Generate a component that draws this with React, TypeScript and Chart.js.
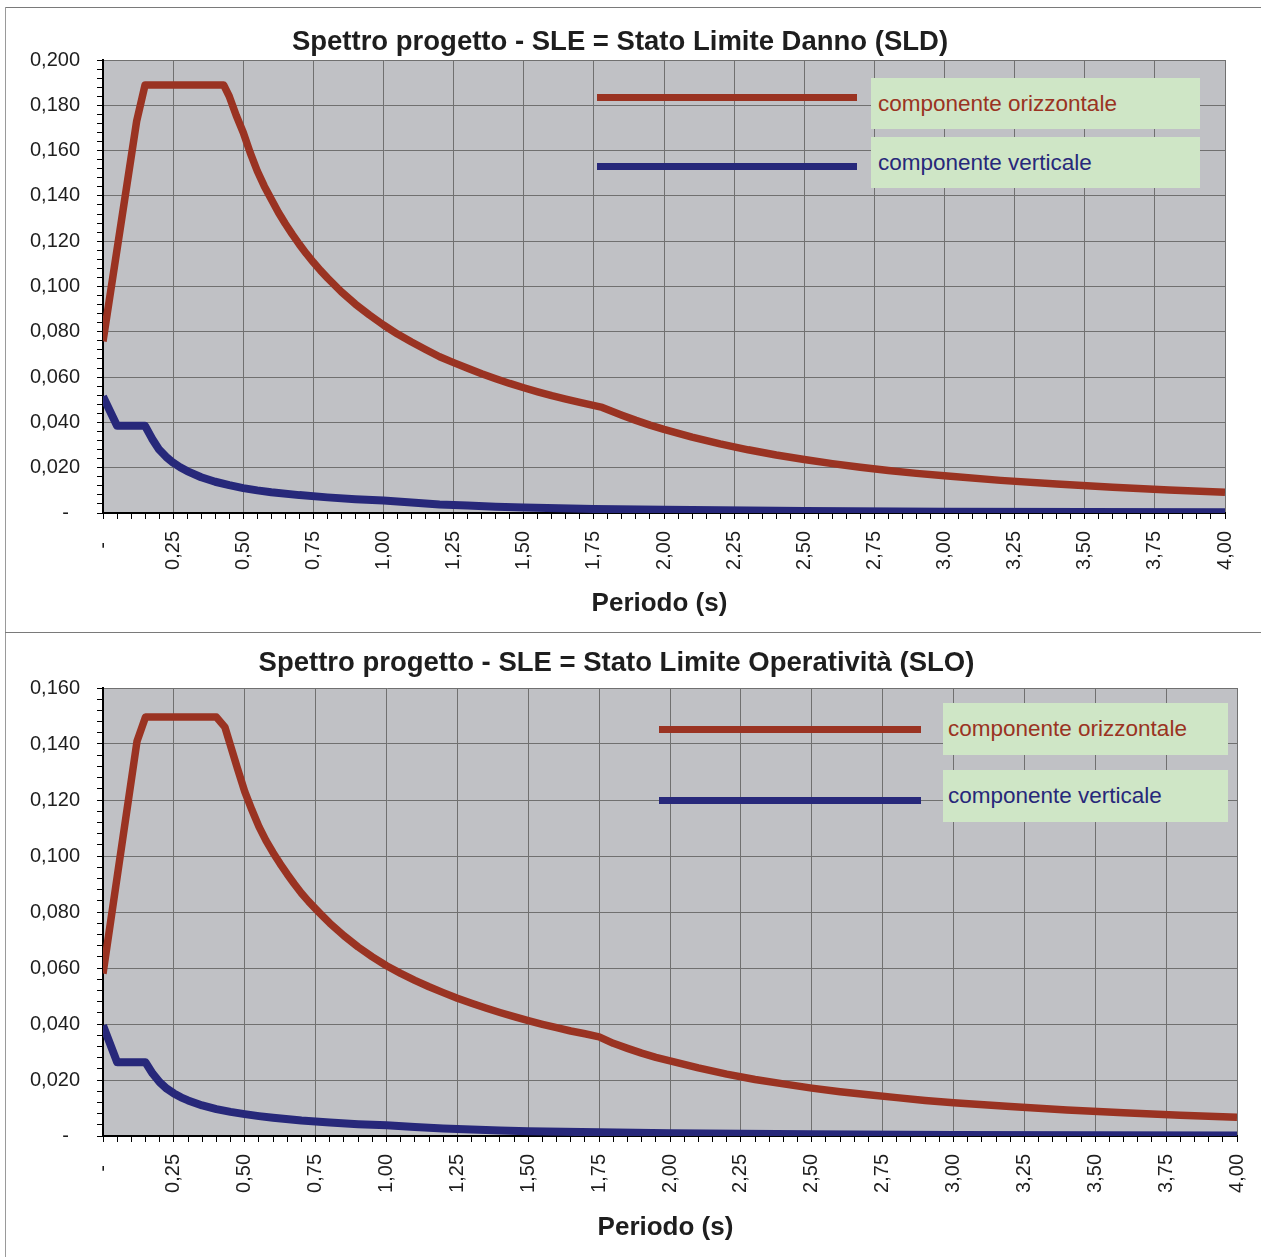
import React, { useEffect, useRef } from 'react';
import { Chart, registerables } from 'chart.js';

Chart.register(...registerables);

// ---------- DATA ----------
const xTickLabels = ['-', '0,25', '0,50', '0,75', '1,00', '1,25', '1,50', '1,75', '2,00', '2,25', '2,50', '2,75', '3,00', '3,25', '3,50', '3,75', '4,00'];
const yTickLabelsSLD = ['-', '0,020', '0,040', '0,060', '0,080', '0,100', '0,120', '0,140', '0,160', '0,180', '0,200'];
const yTickLabelsSLO = ['-', '0,020', '0,040', '0,060', '0,080', '0,100', '0,120', '0,140', '0,160'];

const seriesNames = ['componente orizzontale', 'componente verticale'];
const xAxisTitle = 'Periodo (s)';
const chartTitles = [
  'Spettro progetto - SLE = Stato Limite Danno (SLD)',
  'Spettro progetto - SLE = Stato Limite Operatività (SLO)',
];

// SLD - horizontal component
const periodH_SLD = [0, 0.12, 0.15, 0.43, 0.45, 0.475, 0.5, 0.525, 0.55, 0.575, 0.6, 0.625, 0.65, 0.675, 0.7, 0.725, 0.75, 0.775, 0.8, 0.85, 0.9, 0.95, 1.0, 1.05, 1.1, 1.15, 1.2, 1.25, 1.3, 1.35, 1.4, 1.45, 1.5, 1.55, 1.6, 1.65, 1.7, 1.78, 1.85, 1.9, 1.95, 2.0, 2.1, 2.2, 2.3, 2.4, 2.5, 2.6, 2.7, 2.8, 2.9, 3.0, 3.2, 3.4, 3.6, 3.8, 4.0];
const valueH_SLD = [0.0758, 0.173, 0.189, 0.189, 0.184, 0.1755, 0.168, 0.159, 0.151, 0.1443, 0.1385, 0.1328, 0.1277, 0.123, 0.1186, 0.1145, 0.1107, 0.1071, 0.1038, 0.0976, 0.0922, 0.0874, 0.083, 0.079, 0.0755, 0.0722, 0.069, 0.0664, 0.0639, 0.0615, 0.0593, 0.0572, 0.0553, 0.0535, 0.0518, 0.0503, 0.0488, 0.0466, 0.0432, 0.0409, 0.0388, 0.0369, 0.0335, 0.0305, 0.0279, 0.0256, 0.0236, 0.0218, 0.0202, 0.0188, 0.0175, 0.0164, 0.0144, 0.0128, 0.0114, 0.0102, 0.0092];

// SLD - vertical component
const periodV_SLD = [0, 0.05, 0.15, 0.175, 0.2, 0.225, 0.25, 0.275, 0.3, 0.35, 0.4, 0.45, 0.5, 0.55, 0.6, 0.7, 0.8, 0.9, 1.0, 1.1, 1.2, 1.3, 1.4, 1.5, 1.75, 2.0, 2.5, 3.0, 3.5, 4.0];
const valueV_SLD = [0.0515, 0.0385, 0.0385, 0.0328, 0.028, 0.0248, 0.0222, 0.0202, 0.0185, 0.0158, 0.0138, 0.0123, 0.011, 0.01, 0.0092, 0.0079, 0.0069, 0.0061, 0.0055, 0.0046, 0.0038, 0.0033, 0.0028, 0.0024, 0.0018, 0.0014, 0.0009, 0.0006, 0.0004, 0.0003];

// SLO - horizontal component
const periodH_SLO = [0, 0.12, 0.15, 0.4, 0.43, 0.475, 0.5, 0.525, 0.55, 0.575, 0.6, 0.625, 0.65, 0.675, 0.7, 0.725, 0.75, 0.775, 0.8, 0.85, 0.9, 0.95, 1.0, 1.05, 1.1, 1.15, 1.2, 1.25, 1.3, 1.35, 1.4, 1.45, 1.5, 1.55, 1.6, 1.65, 1.7, 1.75, 1.8, 1.85, 1.9, 1.95, 2.0, 2.1, 2.2, 2.3, 2.4, 2.5, 2.6, 2.7, 2.8, 2.9, 3.0, 3.2, 3.4, 3.6, 3.8, 4.0];
const valueH_SLO = [0.058, 0.141, 0.1496, 0.1496, 0.146, 0.131, 0.123, 0.1165, 0.1105, 0.1055, 0.1012, 0.0972, 0.0935, 0.09, 0.0867, 0.0838, 0.0811, 0.0785, 0.076, 0.0715, 0.0675, 0.064, 0.0608, 0.0581, 0.0556, 0.0533, 0.0512, 0.0492, 0.0474, 0.0457, 0.0441, 0.0426, 0.0412, 0.0399, 0.0387, 0.0375, 0.0365, 0.0354, 0.0331, 0.0313, 0.0296, 0.0281, 0.0268, 0.0243, 0.0221, 0.0202, 0.0186, 0.0171, 0.0158, 0.0147, 0.0137, 0.0127, 0.0119, 0.0105, 0.0093, 0.0083, 0.0074, 0.0067];

// SLO - vertical component
const periodV_SLO = [0, 0.05, 0.15, 0.175, 0.2, 0.225, 0.25, 0.275, 0.3, 0.35, 0.4, 0.45, 0.5, 0.55, 0.6, 0.7, 0.8, 0.9, 1.0, 1.1, 1.2, 1.3, 1.4, 1.5, 1.75, 2.0, 2.5, 3.0, 3.5, 4.0];
const valueV_SLO = [0.0395, 0.0263, 0.0263, 0.0223, 0.0192, 0.0169, 0.0152, 0.0138, 0.0127, 0.0109, 0.0096, 0.0086, 0.0078, 0.0071, 0.0065, 0.0055, 0.0048, 0.0042, 0.0038, 0.0032, 0.0027, 0.0023, 0.002, 0.0017, 0.0013, 0.001, 0.0006, 0.0004, 0.0003, 0.0002];

// ---------- STYLE ----------
const RED = '#9a3322';
const BLUE = '#27287a';
const PLOT_BG = '#c0c1c5';
const GRID = '#707070';
const LEGEND_BG = '#cfe6c6';
const FONT = '"Liberation Sans", Arial, sans-serif';
const TEXT = '#1e1e1e';

const plotBg = {
  id: 'plotBg',
  beforeDraw(chart: any) {
    const { ctx, chartArea } = chart;
    ctx.save();
    ctx.fillStyle = PLOT_BG;
    ctx.fillRect(chartArea.left, chartArea.top, chartArea.right - chartArea.left, chartArea.bottom - chartArea.top);
    ctx.restore();
  },
};

type PanelProps = {
  yMax: number;
  yLabels: string[];
  pH: number[]; vH: number[]; pV: number[]; vV: number[];
  padTop: number; padRight: number; xHeight: number;
};

function SpectrumChart(props: PanelProps) {
  const ref = useRef<HTMLCanvasElement | null>(null);
  useEffect(() => {
    if (!ref.current) return;
    const { yMax, yLabels, pH, vH, pV, vV, padTop, padRight, xHeight } = props;
    const yStep = 0.004;
    const xStep = 0.05;
    const chart = new Chart(ref.current, {
      type: 'line',
      data: {
        datasets: [
          {
            label: seriesNames[0],
            data: pH.map((x, i) => ({ x, y: vH[i] })),
            borderColor: RED,
            borderWidth: 7.5,
            pointRadius: 0,
            tension: 0,
            fill: false,
            borderJoinStyle: 'round',
          },
          {
            label: seriesNames[1],
            data: pV.map((x, i) => ({ x, y: vV[i] })),
            borderColor: BLUE,
            borderWidth: 8,
            pointRadius: 0,
            tension: 0,
            fill: false,
            borderJoinStyle: 'round',
          },
        ],
      },
      options: {
        responsive: false,
        animation: false,
        devicePixelRatio: 1,
        layout: { padding: { top: padTop, right: padRight, left: 0, bottom: 0 } },
        plugins: {
          legend: { display: false },
          tooltip: { enabled: false },
          title: { display: false },
        },
        scales: {
          x: {
            type: 'linear',
            min: 0,
            max: 4,
            afterFit: (s: any) => { s.height = xHeight; s.paddingRight = 0; s.paddingLeft = 0; },
            ticks: {
              stepSize: xStep,
              autoSkip: false,
              minRotation: 90,
              maxRotation: 90,
              padding: 12,
              color: TEXT,
              font: { family: FONT, size: 20 },
              callback: (value: any) => {
                const k = Math.round(Number(value) / xStep);
                if (k % 5 !== 0) return '';
                const lbl = xTickLabels[k / 5] ?? '';
                return lbl === '-' ? '-\u00a0\u00a0' : lbl;
              },
            },
            grid: {
              color: (c: any) => {
                const v = c.tick ? c.tick.value : 0;
                return Math.round(v / xStep) % 5 === 0 ? GRID : 'rgba(0,0,0,0)';
              },
              tickColor: '#000',
              tickLength: 6,
              lineWidth: 1,
            },
            border: { display: true, color: '#000', width: 2 },
            title: { display: false },
          },
          y: {
            type: 'linear',
            min: 0,
            max: yMax,
            afterFit: (s: any) => { s.width = 97; },
            ticks: {
              stepSize: yStep,
              autoSkip: false,
              padding: 17,
              color: TEXT,
              font: { family: FONT, size: 20 },
              callback: (value: any) => {
                const k = Math.round(Number(value) / yStep);
                if (k % 5 !== 0) return '';
                const lbl = yLabels[k / 5] ?? '';
                return lbl === '-' ? '-\u00a0\u00a0' : lbl;
              },
            },
            grid: {
              color: (c: any) => {
                const v = c.tick ? c.tick.value : 0;
                return Math.round(v / yStep) % 5 === 0 ? GRID : 'rgba(0,0,0,0)';
              },
              tickColor: '#000',
              tickLength: 6,
              lineWidth: 1,
            },
            border: { display: true, color: '#000', width: 2 },
          },
        },
      } as any,
      plugins: [plotBg],
    });
    return () => chart.destroy();
  }, []);
  return <canvas ref={ref} width={1255} height={624} style={{ width: 1255, height: 624, display: 'block' }} />;
}

const abs = (left: number, top: number, width: number, height: number, extra: React.CSSProperties = {}): React.CSSProperties => ({
  position: 'absolute', left, top, width, height, ...extra,
});

function LegendBox({ left, top, width, height, color, text, padLeft }: any) {
  return (
    <div style={abs(left, top, width, height, {
      background: LEGEND_BG, color, fontFamily: FONT, fontSize: 22.5, lineHeight: height + 'px',
      paddingLeft: padLeft, boxSizing: 'border-box', whiteSpace: 'nowrap',
    })}>{text}</div>
  );
}

function CenteredText({ cx, cy, size, text }: { cx: number; cy: number; size: number; text: string }) {
  const w = 900;
  return (
    <div style={abs(cx - w / 2, cy - 16, w, 32, {
      textAlign: 'center', fontFamily: FONT, fontWeight: 'bold', fontSize: size, lineHeight: '32px', color: TEXT, whiteSpace: 'nowrap',
    })}>{text}</div>
  );
}

export default function App() {
  return (
    <div style={{ position: 'absolute', left: 0, top: 0, width: 1261, height: 1257, background: '#fff', overflow: 'hidden' }}>
      {/* frame lines */}
      <div style={abs(5, 7, 1256, 1, { background: '#7a7a7a' })} />
      <div style={abs(5, 7, 1, 1250, { background: '#9a9a9a' })} />
      <div style={abs(5, 632, 1256, 1, { background: '#7a7a7a' })} />

      {/* chart 1 */}
      <div style={abs(6, 8, 1255, 624)}>
        <SpectrumChart yMax={0.2} yLabels={yTickLabelsSLD} pH={periodH_SLD} vH={valueH_SLD} pV={periodV_SLD} vV={valueV_SLD}
          padTop={52} padRight={36} xHeight={119} />
      </div>
      <CenteredText cx={620} cy={41} size={27.5} text={chartTitles[0]} />
      <CenteredText cx={659.5} cy={602} size={26} text={xAxisTitle} />
      <div style={abs(597, 93.5, 260, 7, { background: RED })} />
      <LegendBox left={871} top={78} width={329} height={51} color={RED} text={seriesNames[0]} padLeft={7} />
      <div style={abs(597, 162.5, 260, 7, { background: BLUE })} />
      <LegendBox left={871} top={137} width={329} height={51} color={BLUE} text={seriesNames[1]} padLeft={7} />

      {/* chart 2 */}
      <div style={abs(6, 633, 1255, 624)}>
        <SpectrumChart yMax={0.16} yLabels={yTickLabelsSLO} pH={periodH_SLO} vH={valueH_SLO} pV={periodV_SLO} vV={valueV_SLO}
          padTop={55} padRight={24} xHeight={121} />
      </div>
      <CenteredText cx={616.5} cy={662} size={27.5} text={chartTitles[1]} />
      <CenteredText cx={665.5} cy={1226} size={26} text={xAxisTitle} />
      <div style={abs(659, 725.5, 262, 7, { background: RED })} />
      <LegendBox left={943} top={703} width={285} height={52} color={RED} text={seriesNames[0]} padLeft={5} />
      <div style={abs(659, 796.5, 262, 7, { background: BLUE })} />
      <LegendBox left={943} top={770} width={285} height={52} color={BLUE} text={seriesNames[1]} padLeft={5} />
    </div>
  );
}
